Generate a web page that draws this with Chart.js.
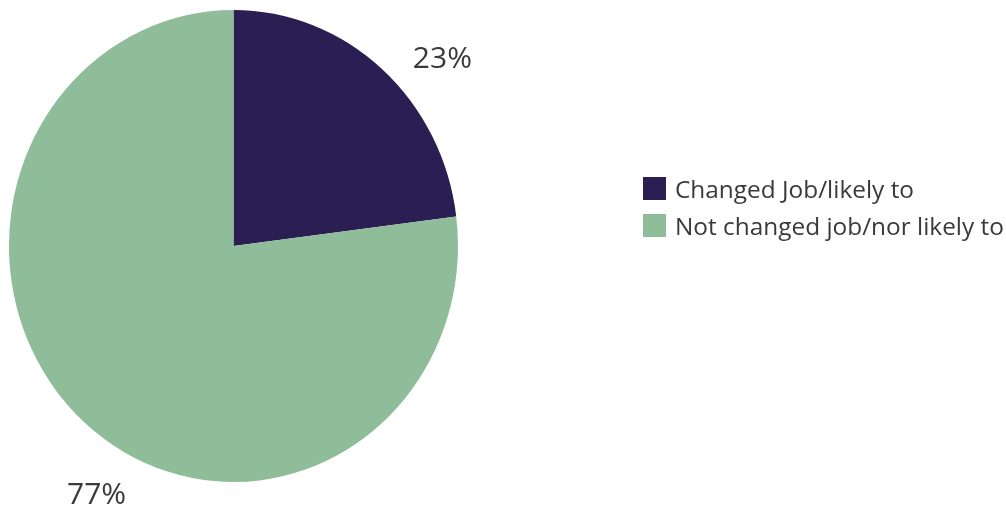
<!DOCTYPE html>
<html>
<head>
<meta charset="utf-8">
<script src="https://cdn.jsdelivr.net/npm/chart.js@4"></script>
<style>
  html, body { margin: 0; padding: 0; background: #fff; }
  #wrap { position: relative; width: 1006px; height: 507px; }
  #legend { position: absolute; left: 643px; top: 177px; font-family: "Open Sans", sans-serif; font-size: 24.4px; color: #3a3a3a; }
  .item { display: flex; align-items: center; height: 23px; margin-bottom: 14px; white-space: nowrap; }
  .box { width: 23px; height: 23px; margin-right: 9px; flex: none; }
</style>
</head>
<body>
<div id="wrap">
  <canvas id="chart" width="1006" height="507"></canvas>
  <div id="legend"></div>
</div>
<script>
// data
const labels = ["Changed Job/likely to", "Not changed job/nor likely to"];
const values = [23, 77];
const colors = ["#2a1e52", "#8fbc99"];
const labelAngleOffsets = [8.3, -11.4]; // degrees, nudges for the % labels

// stretch the pie a little vertically (reference is slightly oval)
const ovalPlugin = {
  id: 'oval',
  beforeDatasetsDraw(chart) {
    const a = chart.chartArea, ctx = chart.ctx;
    const cy = (a.top + a.bottom) / 2;
    const sy = (a.bottom - a.top) / (a.right - a.left);
    ctx.save();
    ctx.translate(0, cy);
    ctx.scale(1, sy);
    ctx.translate(0, -cy);
  },
  afterDatasetsDraw(chart) {
    chart.ctx.restore();
  }
};

const pctLabels = {
  id: 'pctLabels',
  afterDraw(chart) {
    const a = chart.chartArea, ctx = chart.ctx;
    const sy = (a.bottom - a.top) / (a.right - a.left);
    const meta = chart.getDatasetMeta(0);
    ctx.save();
    ctx.font = '30px "Open Sans", sans-serif';
    ctx.fillStyle = '#3a3a3a';
    ctx.textAlign = 'center';
    ctx.textBaseline = 'middle';
    meta.data.forEach((arc, i) => {
      const mid = (arc.startAngle + arc.endAngle) / 2 + labelAngleOffsets[i] * Math.PI / 180;
      const r = arc.outerRadius * 1.22;
      const x = arc.x + Math.cos(mid) * r;
      const y = arc.y + Math.sin(mid) * r * sy;
      ctx.fillText(values[i] + '%', x, y);
    });
    ctx.restore();
  }
};

new Chart(document.getElementById('chart').getContext('2d'), {
  type: 'pie',
  data: {
    labels: labels,
    datasets: [{
      data: values,
      backgroundColor: colors,
      borderWidth: 0
    }]
  },
  options: {
    responsive: false,
    animation: false,
    layout: { padding: { left: 9, top: 10, right: 548, bottom: 25 } },
    plugins: {
      legend: { display: false },
      tooltip: { enabled: false }
    }
  },
  plugins: [ovalPlugin, pctLabels]
});

// html legend
const legendEl = document.getElementById('legend');
labels.forEach((l, i) => {
  const row = document.createElement('div');
  row.className = 'item';
  row.innerHTML = '<span class="box" style="background:' + colors[i] + '"></span><span>' + l + '</span>';
  legendEl.appendChild(row);
});
</script>
</body>
</html>
